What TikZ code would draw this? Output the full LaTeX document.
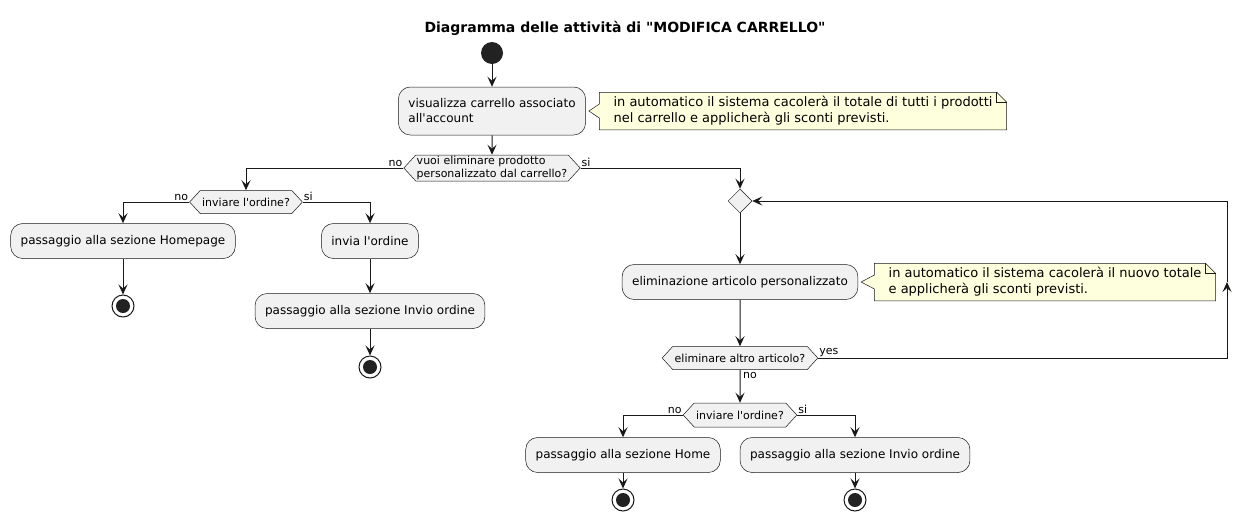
\documentclass[tikz,border=0pt]{standalone}
\usepackage{fontspec}
\setmainfont{DejaVu Sans}[Ligatures=TeXOff]
\usetikzlibrary{arrows.meta,calc,shapes.geometric,shapes.symbols,backgrounds}

\definecolor{linea}{HTML}{181818}
\definecolor{grigio}{HTML}{F1F1F1}
\definecolor{giallo}{HTML}{FEFFDD}
\definecolor{nero}{HTML}{222222}

\tikzset{
  attivita/.style={rectangle, rounded corners=12pt, draw=linea, line width=0.5pt, fill=grigio,
    minimum height=35pt, inner xsep=10pt, font=\fontsize{12}{15}\selectfont, align=left},
  decisione/.style={signal, signal to=west and east, signal pointer angle=95, draw=linea,
    line width=0.5pt, fill=grigio, inner xsep=2pt, inner ysep=1pt, minimum height=23pt,
    font=\fontsize{11}{12.5}\selectfont, align=left},
  unione/.style={diamond, draw=linea, line width=0.5pt, fill=grigio, minimum size=24pt, inner sep=0pt},
  inizio/.style={circle, fill=nero, minimum size=22pt, inner sep=0pt},
  fine/.style={circle, draw=linea, line width=1pt, fill=white, minimum size=22pt, inner sep=0pt,
    path picture={\fill[nero] (path picture bounding box.center) circle (7pt);}},
  nota/.style={draw=linea, line width=0.5pt, fill=giallo},
  testonota/.style={inner xsep=14pt, inner ysep=4pt, font=\fontsize{13}{16}\selectfont, align=left},
  freccia/.style={draw=linea, line width=1pt, -{Stealth[length=10pt,width=9pt,inset=4pt]}},
  tratto/.style={draw=linea, line width=1pt},
  etichetta/.style={inner sep=1pt, font=\fontsize{11}{13}\selectfont},
  titolo/.style={font=\fontsize{14}{17}\selectfont\bfseries},
}

% contorno della nota con angolo piegato e punta verso l'attivita
\newcommand{\contornonota}[2]{%
  \filldraw[nota] (#1.north west) -- ($(#1.north east)+(-10,0)$) -- ($(#1.north east)+(0,10)$)
    -- (#1.south east) -- (#1.south west) -- ($(#1.west |- #2.east)+(0,7)$)
    -- ($(#2.east)+(3,0)$) -- ($(#1.west |- #2.east)+(0,-7)$) -- cycle;
  \draw[nota, fill=none] ($(#1.north east)+(-10,0)$) |- ($(#1.north east)+(0,10)$);
}

\begin{document}
\begin{tikzpicture}[x=1pt, y=-1pt]
  \useasboundingbox (0,0) rectangle (1251,523);

  % Titolo
  \node[titolo] (titolo) at (625,28) {Diagramma delle attività di "MODIFICA CARRELLO"};

  % Inizio e prima attivita
  \node[inizio] (inizio) at (492,53) {};
  \node[attivita, minimum height=48pt] (visualizza) at (492,111) {visualizza carrello associato\\all'account};
  \node[testonota] (nota1) at (803,111) {in automatico il sistema cacolerà il totale di tutti i prodotti\\nel carrello e applicherà gli sconti previsti.};

  % Prima decisione
  \node[decisione, minimum height=26pt, inner xsep=1pt] (dec1) at (492,168) {vuoi eliminare prodotto\\personalizzato dal carrello?};

  % Ramo "no"
  \node[decisione] (dec2) at (246,202) {inviare l'ordine?};
  \node[attivita] (homepage) at (123,241) {passaggio alla sezione Homepage};
  \node[attivita] (invia) at (370,241) {invia l'ordine};
  \node[attivita] (invioord1) at (370,311) {passaggio alla sezione Invio ordine};

  % Ramo "si" con ciclo
  \node[unione] (unione) at (740,201) {};
  \node[attivita] (elimina) at (740,282) {eliminazione articolo personalizzato};
  \node[testonota] (nota2) at (1045,282) {in automatico il sistema cacolerà il nuovo totale\\e applicherà gli sconti previsti.};
  \node[decisione] (dec3) at (740,358) {eliminare altro articolo?};
  \coordinate (ritorno) at (1227,358);
  \node[decisione, minimum height=24pt] (dec4) at (740,415) {inviare l'ordine?};
  \node[attivita] (home) at (623,455) {passaggio alla sezione Home};
  \node[attivita] (invioord2) at (855,455) {passaggio alla sezione Invio ordine};

  % Nodi finali
  \foreach \nome/\x/\y in {fine1/123/306, fine2/370/367, fine3/623/500, fine4/855/500} {
    \node[fine] (\nome) at (\x,\y) {};
  }

  % Note
  \begin{scope}[on background layer]
    \contornonota{nota1}{visualizza}
    \contornonota{nota2}{elimina}
  \end{scope}

  % Frecce
  \draw[freccia] (inizio) -- (visualizza);
  \draw[freccia] (visualizza) -- (dec1);
  \draw[freccia] (dec1.west) -| (dec2.north);
  \draw[freccia] (dec1.east) -| (unione.north);
  \draw[freccia] (dec2.west) -| (homepage.north);
  \draw[freccia] (dec2.east) -| (invia.north);
  \draw[freccia] (homepage) -- (fine1);
  \draw[freccia] (invia) -- (invioord1);
  \draw[freccia] (invioord1) -- (fine2);
  \draw[freccia] (unione) -- (elimina);
  \draw[freccia] (elimina) -- (dec3);
  \draw[freccia] (dec3.east) -- (ritorno) -- (ritorno |- elimina);
  \draw[freccia] (ritorno |- elimina) |- (unione.east);
  \draw[freccia] (dec3) -- (dec4);
  \draw[freccia] (dec4.west) -| (home.north);
  \draw[freccia] (dec4.east) -| (invioord2.north);
  \draw[freccia] (home) -- (fine3);
  \draw[freccia] (invioord2) -- (fine4);

  % Etichette
  \node[etichetta, anchor=south east] (no1) at (dec1.west) {no};
  \node[etichetta, anchor=south west] (si1) at (dec1.east) {si};
  \node[etichetta, anchor=south east] (no2) at (dec2.west) {no};
  \node[etichetta, anchor=south west] (si2) at (dec2.east) {si};
  \node[etichetta, anchor=south west] (yes3) at (dec3.east) {yes};
  \node[etichetta, anchor=north west] (no3) at ($(dec3.south)+(2,1)$) {no};
  \node[etichetta, anchor=south east] (no4) at (dec4.west) {no};
  \node[etichetta, anchor=south west] (si4) at (dec4.east) {si};
\end{tikzpicture}
\end{document}
